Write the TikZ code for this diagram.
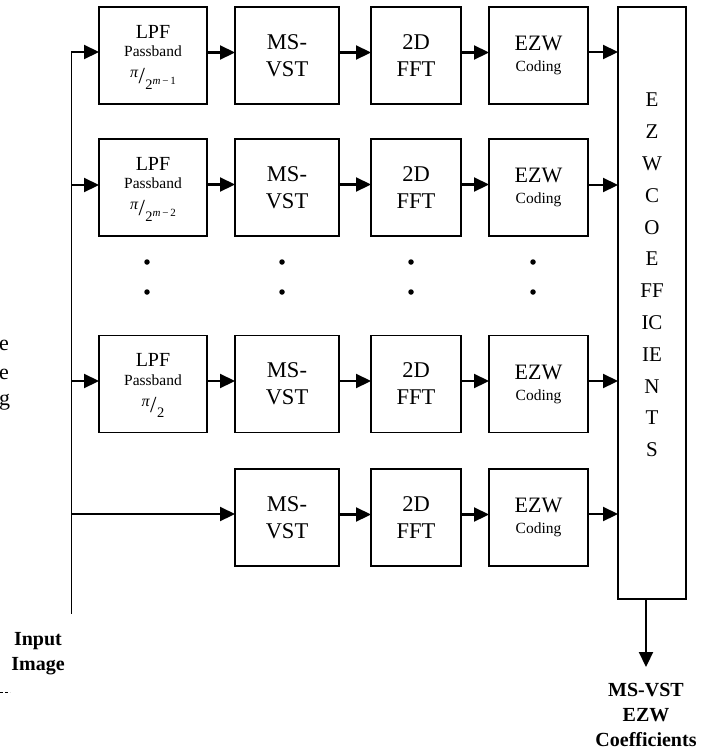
\documentclass[tikz,border=0pt]{standalone}
\usepackage{fontspec}
\setmainfont{Liberation Serif}
\usetikzlibrary{arrows.meta}
\newcommand{\skf}[2]{\raisebox{6pt}{\fontsize{16}{16}\selectfont\itshape #1}\kern0.5pt{\fontsize{23}{23}\selectfont/}\kern0.5pt\raisebox{-5.5pt}{\fontsize{14.5}{14.5}\selectfont #2}}
\newcommand{\supm}[1]{\raisebox{4.5pt}{\fontsize{11}{11}\selectfont\itshape m\upshape\,−\,#1}}
\begin{document}
\begin{tikzpicture}[x=1pt,y=-1pt,
  blk/.style={draw, line width=1.8pt, inner sep=0pt, outer sep=0pt, minimum height=97pt, align=center},
  lpfbox/.style={blk, minimum width=108pt},
  lpftxt/.style={anchor=north, inner sep=0pt, align=center, font=\fontsize{20}{22}\selectfont},
  msbox/.style={blk, minimum width=104pt, font=\fontsize{22.5}{27}\selectfont},
  fftbox/.style={blk, minimum width=90pt, font=\fontsize{22.5}{27}\selectfont},
  ezwbox/.style={blk, minimum width=99pt, font=\fontsize{22}{24}\selectfont},
  arr/.style={line width=2.2pt, -{Triangle[length=15pt,width=14pt]}},
  dotm/.style={circle, fill=black, inner sep=0pt, minimum size=5.5pt},
  lbl/.style={align=center, font=\bfseries\fontsize{20}{25}\selectfont, inner sep=0pt}
]
\useasboundingbox (0,0) rectangle (712,750);

% rows
\node[lpfbox] (l1) at (153,55.5) {};
\node[lpfbox] (l2) at (153,187.5) {};
\node[lpfbox] (l3) at (153,384) {};
\node[lpftxt] (l1t) at ([yshift=-18pt]l1.north) {LPF\\[-3.5pt]{\fontsize{15.5}{17}\selectfont Passband}\\[5pt]\skf{π}{2\supm{1}}};
\node[lpftxt] (l2t) at ([yshift=-18pt]l2.north) {LPF\\[-3.5pt]{\fontsize{15.5}{17}\selectfont Passband}\\[5pt]\skf{π}{2\supm{2}}};
\node[lpftxt] (l3t) at ([yshift=-18pt]l3.north) {LPF\\[-3.5pt]{\fontsize{15.5}{17}\selectfont Passband}\\[5pt]\skf{π}{2}};

\node[msbox] (m1) at (287,55.5) {MS-\\VST};
\node[msbox] (m2) at (287,187.5) {MS-\\VST};
\node[msbox] (m3) at (287,384) {MS-\\VST};
\node[msbox] (m4) at (287,517.5) {MS-\\VST};

\node[fftbox] (f1) at (416,55.5) {2D\\FFT};
\node[fftbox] (f2) at (416,187.5) {2D\\FFT};
\node[fftbox] (f3) at (416,384) {2D\\FFT};
\node[fftbox] (f4) at (416,517.5) {2D\\FFT};

\node[ezwbox] (e1) at (538.5,55.5) {EZW\\[-3pt]{\fontsize{15.5}{17}\selectfont Coding}};
\node[ezwbox] (e2) at (538.5,187.5) {EZW\\[-3pt]{\fontsize{15.5}{17}\selectfont Coding}};
\node[ezwbox] (e3) at (538.5,384) {EZW\\[-3pt]{\fontsize{15.5}{17}\selectfont Coding}};
\node[ezwbox] (e4) at (538.5,517.5) {EZW\\[-3pt]{\fontsize{15.5}{17}\selectfont Coding}};

% big collector box
\node[draw, line width=1.8pt, inner sep=0pt, outer sep=0pt, minimum width=68pt, minimum height=592pt] (big) at (652,303) {};
\node[align=center, inner sep=0pt, font=\fontsize{21}{31.8}\selectfont] (bigtxt) at (652,275)
  {E\\Z\\W\\C\\O\\E\\FF\\IC\\IE\\N\\T\\S};

% dots
\foreach \x/\n in {147/a,282/b,411/c,533/d}{
  \node[dotm] (dt\n) at (\x,262) {};
  \node[dotm] (db\n) at (\x,292) {};
}

% trunk
\coordinate (t1) at (71,52);
\coordinate (t2) at (71,185);
\coordinate (t3) at (71,381);
\coordinate (t4) at (71,514);
\coordinate (tb) at (71,614);
\draw[line width=1pt] (t1) -- (tb);

\draw[arr] (t1) -- ([yshift=3.5pt]l1.west);
\draw[arr] (t2) -- ([yshift=2.5pt]l2.west);
\draw[arr] (t3) -- ([yshift=3pt]l3.west);
\draw[arr] (t4) -- ([yshift=3.5pt]m4.west);

\foreach \i in {1,2,3}{
  \draw[arr] ([yshift=3pt]l\i.east) -- ([yshift=3pt]m\i.west);
}
\foreach \i in {1,2,3,4}{
  \draw[arr] ([yshift=3pt]m\i.east) -- ([yshift=3pt]f\i.west);
  \draw[arr] ([yshift=3pt]f\i.east) -- ([yshift=3pt]e\i.west);
}
\draw[arr] ([yshift=3.5pt]e1.east) -- (618,52);
\draw[arr] ([yshift=2.5pt]e2.east) -- (618,185);
\draw[arr] ([yshift=3pt]e3.east) -- (618,381);
\draw[arr] ([yshift=3.5pt]e4.east) -- (618,514);

% output
\coordinate (outtip) at (646,667);
\draw[arr] ([xshift=-6pt]big.south) -- (outtip);
\node[lbl] (out) at (646,715) {MS-VST\\EZW\\Coefficients};

% input label
\node[lbl] (inp) at (38,654) {Input\\Image};

% cut-off letters at left edge
\node[anchor=west, inner sep=0pt, font=\fontsize{22}{22}\selectfont] (c1) at (-1,345) {e};
\node[anchor=west, inner sep=0pt, font=\fontsize{22}{22}\selectfont] (c2) at (-1,374) {e};
\node[anchor=west, inner sep=0pt, font=\fontsize{22}{22}\selectfont] (c3) at (-1,402) {g};
\draw[line width=0.6pt, dash pattern=on 3pt off 2pt] (0,692) -- (10,692);
\end{tikzpicture}
\end{document}
